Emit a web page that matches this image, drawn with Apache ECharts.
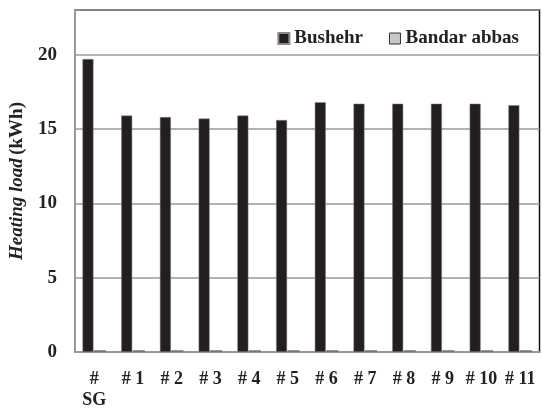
<!DOCTYPE html>
<html><head><meta charset="utf-8">
<script src="https://cdn.jsdelivr.net/npm/echarts@6/dist/echarts.min.js"></script>
<style>html,body{margin:0;padding:0;background:#fff}#c{width:542px;height:411px}</style>
</head><body><div id="c"></div>
<script>
var categories = ['#\nSG','# 1','# 2','# 3','# 4','# 5','# 6','# 7','# 8','# 9','# 10','# 11'];
var bushehr = [19.7,15.9,15.8,15.7,15.9,15.6,16.8,16.7,16.7,16.7,16.7,16.6];
var bandarAbbas = [0.12,0.12,0.12,0.12,0.12,0.12,0.12,0.12,0.12,0.12,0.12,0.12];
var yTicks = [0,5,10,15,20];
var font = 'Liberation Serif';
var chart = echarts.init(document.getElementById('c'));
chart.setOption({
  animation:false,
  grid:{left:69,right:2.5,top:10,bottom:54,show:true,borderColor:'#111',borderWidth:1.5},
  legend:{top:24,right:18,itemWidth:11,itemHeight:11,itemGap:26,
    textStyle:{fontFamily:font,fontWeight:'bold',fontSize:19,color:'#222'},
    data:[{name:'Bushehr',icon:'rect'},{name:'Bandar abbas',icon:'rect',itemStyle:{color:'#c8c8c8',borderColor:'#333',borderWidth:1}}]},
  xAxis:{type:'category',data:categories,
    axisLine:{lineStyle:{color:'#999',width:2}},axisTick:{show:false},
    axisLabel:{fontFamily:font,fontWeight:'bold',fontSize:18,color:'#222',margin:17,interval:0,lineHeight:21,verticalAlign:'top'}},
  yAxis:{type:'value',min:0,max:23,interval:5,
    name:'{i|Heating load} {n|(kWh)}',nameLocation:'middle',nameGap:47,nameRotate:90,
    nameTextStyle:{rich:{i:{fontFamily:font,fontStyle:'italic',fontWeight:'bold',fontSize:19,color:'#222'},n:{fontFamily:font,fontWeight:'bold',fontSize:19,color:'#222'}}},
    axisLine:{show:true,lineStyle:{color:'#999',width:2}},axisTick:{show:true,length:-1,lineStyle:{color:'#999'}},
    splitLine:{lineStyle:{color:'#999',width:1.5}},
    axisLabel:{fontFamily:font,fontWeight:'bold',fontSize:19,color:'#222',margin:18,
      formatter:function(v){return yTicks.indexOf(v)>=0?String(v):'';}}},
  series:[
    {name:'Bushehr',type:'bar',data:bushehr,barWidth:11,barGap:'5%',itemStyle:{color:'#231f20',borderColor:'#888',borderWidth:0.5}},
    {name:'Bandar abbas',type:'bar',data:bandarAbbas,barWidth:12,itemStyle:{color:'#777'}}
  ]
});
</script></body></html>
